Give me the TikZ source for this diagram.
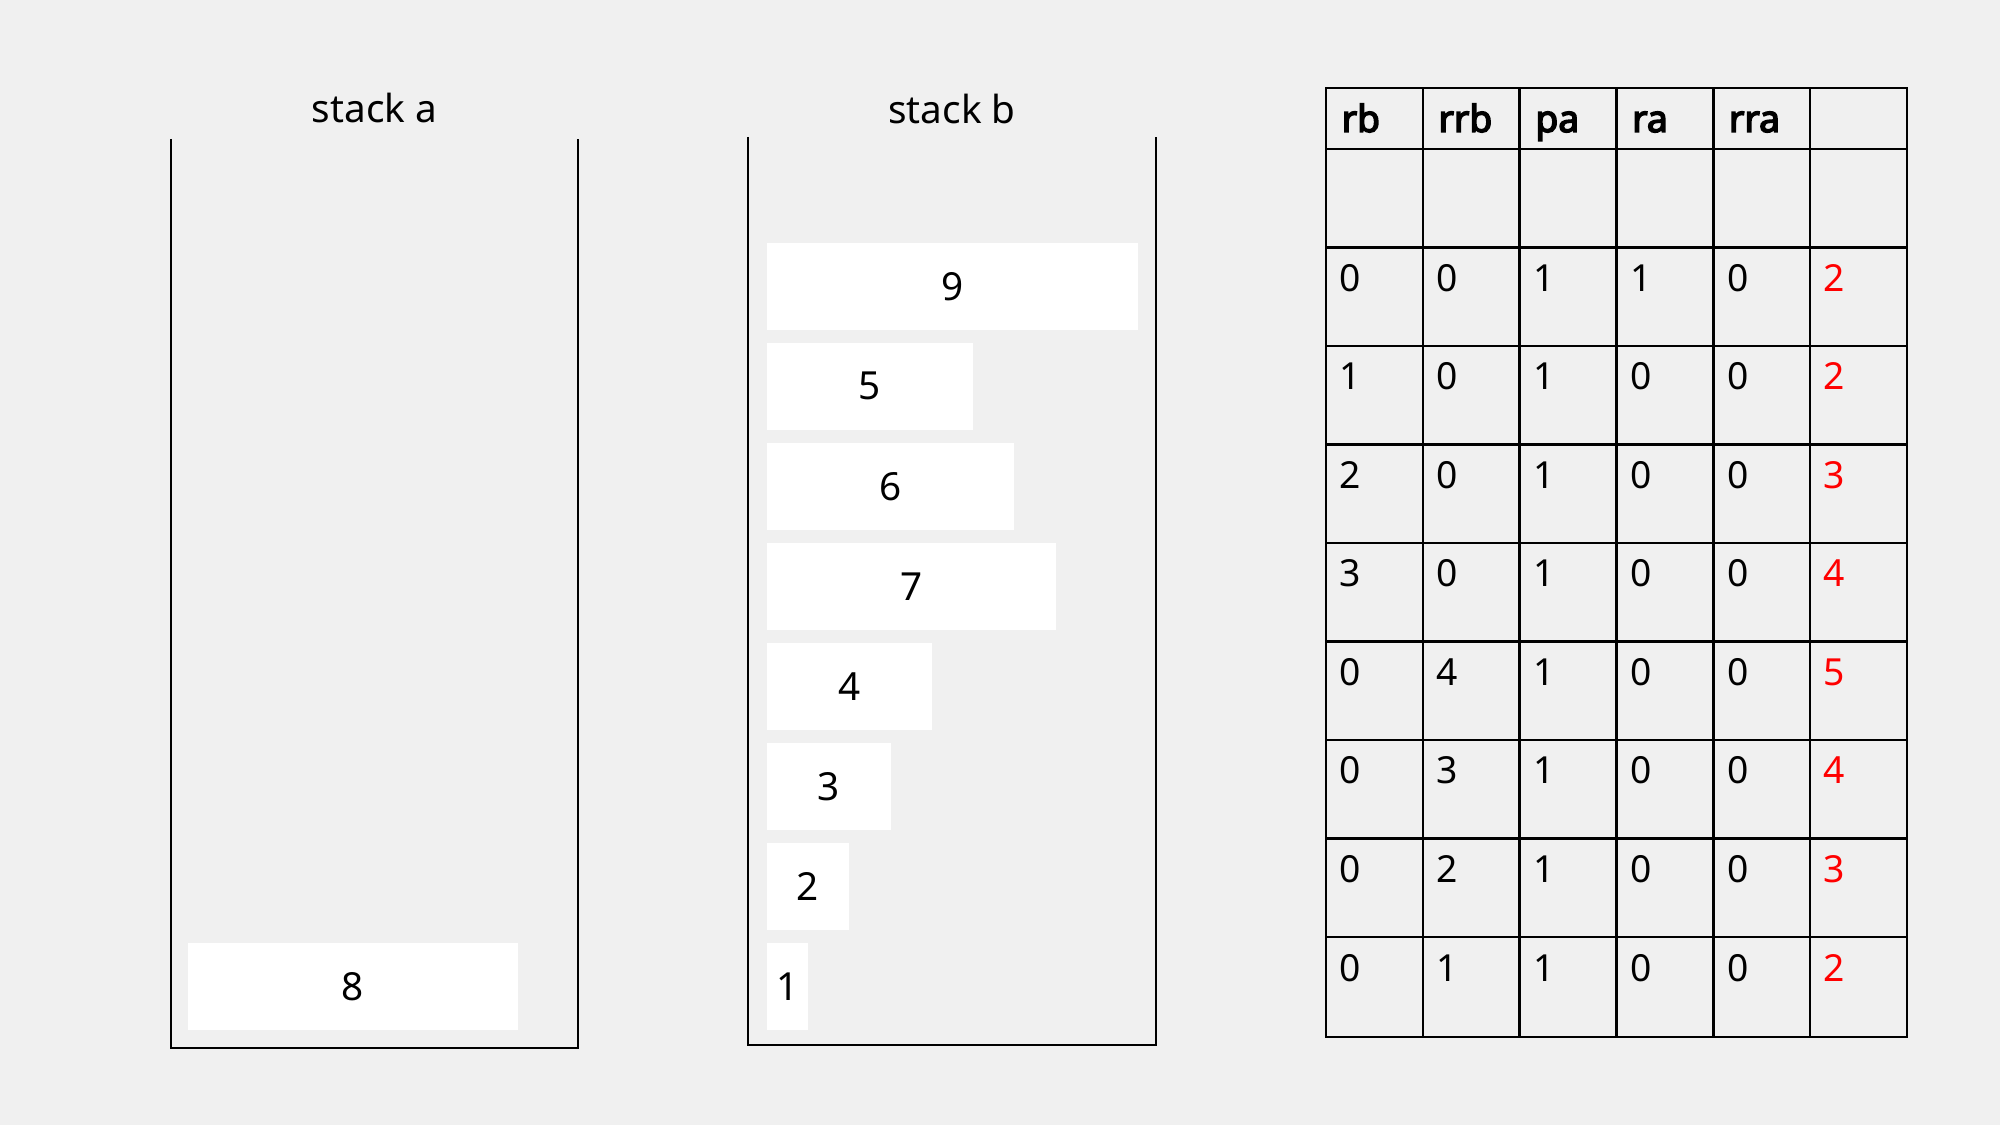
\documentclass[tikz,border=0pt]{standalone}
\usepackage{fontspec}
\setmainfont{Noto Sans}
\newfontfamily\hdrfont[FakeBold=4]{Noto Sans}
\definecolor{bg}{RGB}{240,240,240}
\begin{document}
\begin{tikzpicture}[x=0.01cm,y=-0.01cm,
  every node/.style={font=\fontsize{11pt}{13pt}\selectfont},
  stackline/.style={draw=black,line width=0.4pt},
  item/.style={fill=white,draw=none,minimum height=0.87cm,inner sep=0pt,anchor=north west},
  ttl/.style={anchor=base,inner sep=0pt},
  gridline/.style={line width=0.7pt,black},
  cell/.style={anchor=base west,inner sep=0pt,font=\fontsize{10.6pt}{13pt}\selectfont},
  hcell/.style={cell,font=\fontsize{10.6pt}{13pt}\hdrfont},
  redcell/.style={cell,text=red}]
\fill[bg] (0,0) rectangle (2000,1125);
\useasboundingbox (0,0) rectangle (2000,1125);
% stack a
\node[ttl] (ta) at (374.5,123) {stack a};
\draw[stackline] (171,139) -- (171,1048) -- (578,1048) -- (578,139);
\node[item,minimum width={8*0.4125cm}] (a8) at (187,942) {8};
% stack b
\node[ttl] (tb) at (952,124) {stack b};
\draw[stackline] (748,137) -- (748,1045) -- (1156,1045) -- (1156,137);
\foreach \n/\t in {9/242,5/342,6/442,7/542,4/642,3/742,2/842,1/942}
  \node[item,minimum width={\n*0.4125cm}] (b\n) at (766,\t) {\n};
% table
\draw[gridline] (1326,88) rectangle (1907,1037);
\foreach \k in {1,...,5}
  \draw[gridline] ({1326+96.83*\k},88) -- ({1326+96.83*\k},1037);
\draw[gridline] (1326,149) -- (1907,149);
\foreach \j in {1,...,8}
  \draw[gridline] (1326,{149+98.5*\j}) -- (1907,{149+98.5*\j});
\foreach \s [count=\k from 0] in {rb,rrb,pa,ra,rra}
  \node[hcell] (h\k) at ({1341+96.83*\k},132) {\s};
\foreach \r/\a/\b/\c/\d/\e/\f in {1/0/0/1/1/0/2,2/1/0/1/0/0/2,3/2/0/1/0/0/3,4/3/0/1/0/0/4,5/0/4/1/0/0/5,6/0/3/1/0/0/4,7/0/2/1/0/0/3,8/0/1/1/0/0/2}{
  \node[cell] (c\r-0) at ({1339},{149+98.5*\r+44}) {\a};
  \node[cell] (c\r-1) at ({1339+96.83},{149+98.5*\r+44}) {\b};
  \node[cell] (c\r-2) at ({1339+2*96.83},{149+98.5*\r+44}) {\c};
  \node[cell] (c\r-3) at ({1339+3*96.83},{149+98.5*\r+44}) {\d};
  \node[cell] (c\r-4) at ({1339+4*96.83},{149+98.5*\r+44}) {\e};
  \node[redcell] (c\r-5) at ({1339+5*96.83},{149+98.5*\r+44}) {\f};
}
\end{tikzpicture}
\end{document}
